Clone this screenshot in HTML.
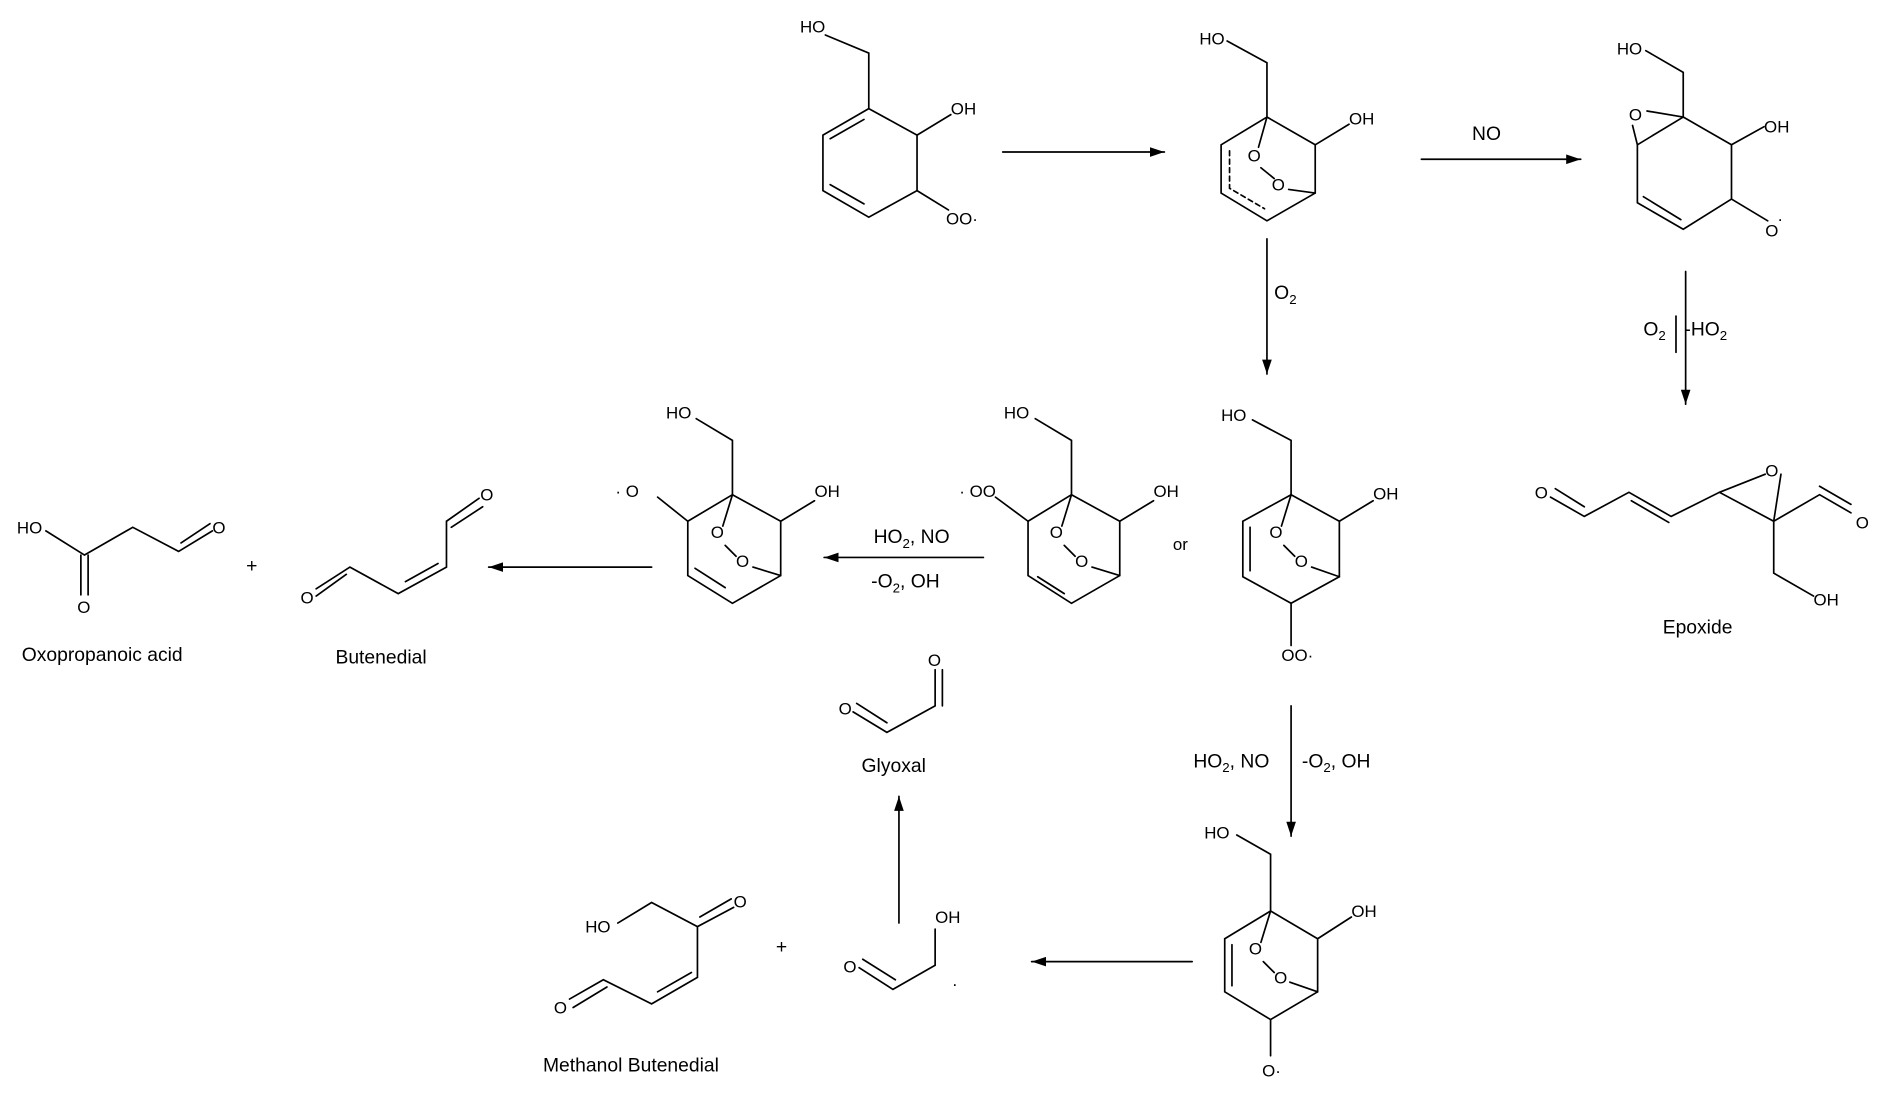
<!DOCTYPE html>
<html><head><meta charset="utf-8"><style>
html,body{margin:0;padding:0;background:#fff;}
svg{display:block}
text{font-family:"Liberation Sans",sans-serif;fill:#000}
.a{font-size:14px}
.l{font-size:16px}
</style></head><body>
<svg width="1892" height="1098" viewBox="0 0 1568 910" xmlns="http://www.w3.org/2000/svg">
<defs><marker id="ah" viewBox="0 0 12 8" refX="12" refY="4" markerWidth="12" markerHeight="8" markerUnits="userSpaceOnUse" orient="auto"><path d="M0,0 L12,4 L0,8 Z" fill="#000"/></marker></defs>
<g stroke="#000" stroke-width="1.4" fill="none" stroke-linecap="round">
<!-- Mol 1 -->
<path d="M684,29 L720,44 L720,90"/>
<path d="M720,90 L760,112 L760,158 L720,180 L682,158 L682,112 Z"/>
<path d="M688,115 L716,99 M688,153 L716,169"/>
<path d="M760,112 L788,95 M760,158 L786,174"/>
<path d="M831,126 L965,126" marker-end="url(#ah)"/>
<!-- Mol 2 -->
<path d="M1017,34 L1050,52 L1050,97 L1090,120 L1090,160 L1050,183 L1012,160 L1012,120 L1050,97"/>
<path d="M1090,120 L1118,103"/>
<path d="M1050,97 L1043,122 M1045,139 L1056,148 M1068,157 L1090,160"/>
<path d="M1019,125 L1019,156 L1048,173" stroke-dasharray="4,3"/>
<path d="M1050,198 L1050,310" marker-end="url(#ah)"/>
<path d="M1178,132 L1310,132" marker-end="url(#ah)"/>
<!-- Mol 3 -->
<path d="M1364,42 L1395,60 L1395,97 L1435,120 L1435,165 L1395,190 L1357,168 L1357,120 L1395,97"/>
<path d="M1362,163 L1393,182"/>
<path d="M1357,120 L1353,104 M1365,92 L1395,97"/>
<path d="M1435,120 L1462,105 M1435,165 L1465,183"/>
<path d="M1397,225 L1397,335" marker-end="url(#ah)"/>
<path d="M1389,262 L1389,292"/>
<!-- Epoxide -->
<path d="M1285,412 L1313,428 L1350,408 L1385,428 L1425,408 L1470,432 L1508,410 L1534,425"/>
<path d="M1289,405 L1313,420 M1352,415 L1383,433 M1508,403 L1534,418"/>
<path d="M1425,408 L1463,393 M1476,393 L1470,432 L1470,475 L1503,494"/>
<!-- Mol 4 -->
<path d="M1038,348 L1070,365 L1070,410 L1110,432 L1110,478 L1070,500 L1030,478 L1030,432 L1070,410"/>
<path d="M1036,437 L1036,473"/>
<path d="M1110,432 L1138,415"/>
<path d="M1070,410 L1062,436 M1064,452 L1073,461 M1087,470 L1110,478"/>
<path d="M1070,500 L1070,535"/>
<!-- Mol 5 -->
<path d="M858,347 L888,365 L888,410 L928,432 L928,477 L888,500 L852,477 L852,432 L888,410"/>
<path d="M882,492 L860,478"/>
<path d="M928,432 L956,415 M852,432 L825,412"/>
<path d="M888,410 L880,436 M882,452 L891,461 M905,470 L928,477"/>
<path d="M815,462 L683,462" marker-end="url(#ah)"/>
<!-- Mol 6 -->
<path d="M577,347 L607,365 L607,410 L647,432 L647,477 L607,500 L570,477 L570,432 L607,410"/>
<path d="M576,471 L601,487"/>
<path d="M647,432 L675,415 M570,432 L545,412"/>
<path d="M607,410 L599,436 M601,452 L610,461 M624,470 L647,477"/>
<path d="M540,470 L405,470" marker-end="url(#ah)"/>
<!-- Butenedial -->
<path d="M397,413 L370,432 L370,470 L330,492 L290,470 L262,488"/>
<path d="M400,420 L374,437 M363,467 L336,482 M287,476 L262,494"/>
<!-- Oxopropanoic -->
<path d="M38,440 L70,460 L110,437 L148,457 L176,440"/>
<path d="M150,450 L174,434 M67,460 L67,493 M73,460 L73,493"/>
<path d="M1070,585 L1070,693" marker-end="url(#ah)"/>
<!-- Mol 7 -->
<path d="M1025,692 L1053,708 L1053,755 L1092,778 L1092,822 L1053,845 L1015,822 L1015,778 L1053,755"/>
<path d="M1021,783 L1021,817"/>
<path d="M1092,778 L1120,760"/>
<path d="M1053,755 L1045,781 M1047,797 L1056,806 M1069,814 L1092,822"/>
<path d="M1053,845 L1053,875"/>
<path d="M988,797 L855,797" marker-end="url(#ah)"/>
<!-- radical fragment -->
<path d="M712,802 L740,820 L775,800 L775,770"/>
<path d="M715,795 L742,812"/>
<path d="M745,765 L745,660" marker-end="url(#ah)"/>
<!-- glyoxal -->
<path d="M707,590 L735,607 L775,585 L775,555"/>
<path d="M710,583 L735,599 M781,585 L781,555"/>
<!-- methanol butenedial -->
<path d="M512,765 L540,748 L578,768 L608,752 M578,768 L578,810 L540,832 L500,812 L472,828"/>
<path d="M580,760 L606,745 M573,806 L545,822 M503,818 L475,835"/>
</g>
<g class="a">
<text x="663" y="27">HO</text><text x="788" y="95">OH</text><text x="784" y="186">OO·</text>
<text x="994" y="37">HO</text><text x="1118" y="103">OH</text>
<text x="1034" y="134">O</text><text x="1054" y="158">O</text>
<text x="1340" y="45">HO</text><text x="1462" y="110">OH</text><text x="1463" y="196">O</text><text x="1473" y="186">·</text>
<text x="1350" y="100">O</text>
<text x="1272" y="413">O</text><text x="1463" y="395">O</text><text x="1538" y="438">O</text><text x="1503" y="502">OH</text>
<text x="1012" y="349">HO</text><text x="1138" y="414">OH</text>
<text x="1052" y="446">O</text><text x="1073" y="470">O</text><text x="1062" y="548">OO·</text>
<text x="972" y="456">or</text>
<text x="832" y="347">HO</text><text x="956" y="412">OH</text><text x="795" y="412">· OO</text>
<text x="870" y="446">O</text><text x="891" y="470">O</text>
<text x="552" y="347">HO</text><text x="675" y="412">OH</text><text x="510" y="412">· O</text>
<text x="589" y="446">O</text><text x="610" y="470">O</text>
<text x="398" y="415">O</text><text x="249" y="500">O</text>
<text x="14" y="442">HO</text><text x="176" y="442">O</text><text x="64" y="508">O</text>
<text x="998" y="695">HO</text><text x="1120" y="760">OH</text>
<text x="1035" y="791">O</text><text x="1056" y="815">O</text><text x="1046" y="892">O·</text>
<text x="699" y="806">O</text><text x="775" y="765">OH</text><text x="789" y="820">·</text>
<text x="695" y="592">O</text><text x="769" y="552">O</text>
<text x="485" y="773">HO</text><text x="608" y="752">O</text><text x="459" y="840">O</text>
</g>
<g class="l">
<text x="1220" y="116">NO</text>
<text x="1056" y="248">O<tspan font-size="11" dy="4">2</tspan></text>
<text x="1362" y="278">O<tspan font-size="11" dy="4">2</tspan></text>
<text x="1396" y="278">-HO<tspan font-size="11" dy="4">2</tspan></text>
<text x="1378" y="525">Epoxide</text>
<text x="724" y="450">HO<tspan font-size="11" dy="4">2</tspan><tspan dy="-4">, NO</tspan></text>
<text x="722" y="487">-O<tspan font-size="11" dy="4">2</tspan><tspan dy="-4">, OH</tspan></text>
<text x="989" y="636">HO<tspan font-size="11" dy="4">2</tspan><tspan dy="-4">, NO</tspan></text>
<text x="1079" y="636">-O<tspan font-size="11" dy="4">2</tspan><tspan dy="-4">, OH</tspan></text>
<text x="18" y="548">Oxopropanoic acid</text>
<text x="278" y="550">Butenedial</text>
<text x="204" y="474">+</text>
<text x="643" y="790">+</text>
<text x="714" y="640">Glyoxal</text>
<text x="450" y="888">Methanol Butenedial</text>
</g>
</svg>
</body></html>
